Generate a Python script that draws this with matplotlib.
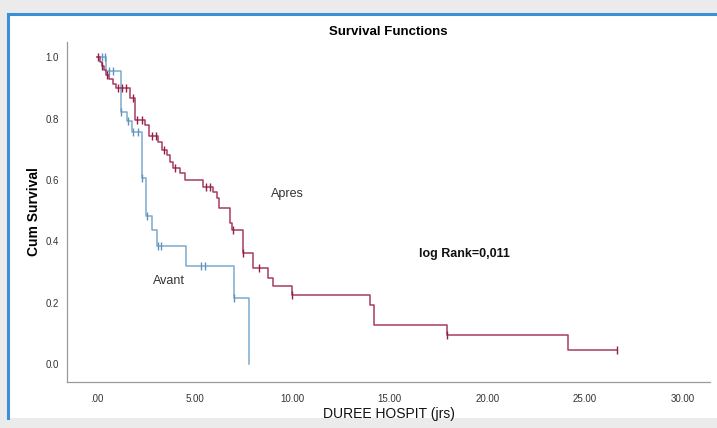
import numpy as np
import matplotlib
matplotlib.use('Agg')
import matplotlib.pyplot as plt
from matplotlib.patches import Rectangle

plt.rcParams['font.family'] = ['Liberation Sans', 'DejaVu Sans']

# Kaplan-Meier steps (time in days, cum survival after the drop)
apres_times = [0.13, 0.23, 0.36, 0.46, 0.62, 0.82, 0.97, 1.69, 1.95, 2.46, 2.67, 3.13, 3.32,
               3.57, 3.74, 3.90, 4.26, 4.51, 5.44, 5.93, 6.14, 6.26, 6.82, 6.92, 7.49, 8.00,
               8.77, 9.03, 9.98, 14.00, 14.20, 17.93, 24.14]
apres_surv = [0.985, 0.972, 0.959, 0.943, 0.930, 0.914, 0.900, 0.868, 0.796, 0.780, 0.744,
              0.725, 0.698, 0.682, 0.660, 0.638, 0.622, 0.600, 0.577, 0.562, 0.541, 0.509,
              0.460, 0.437, 0.363, 0.313, 0.281, 0.253, 0.225, 0.192, 0.127, 0.095, 0.046]
apres_end = 26.65
apres_censored = [0.05, 0.25, 0.5, 1.08, 1.28, 1.5, 1.83, 2.05, 2.3, 2.8, 3.0, 3.45, 4.0,
                  5.6, 5.8, 6.95, 7.5, 8.3, 9.98, 17.93, 26.65]

avant_times = [0.46, 1.23, 1.52, 1.78, 2.29, 2.51, 2.81, 3.06, 4.56, 7.03, 7.76]
avant_surv = [0.956, 0.822, 0.791, 0.758, 0.606, 0.481, 0.437, 0.385, 0.320, 0.214, 0.0]
avant_end = 7.76
avant_censored = [0.25, 0.4, 0.6, 0.8, 1.23, 1.6, 1.85, 2.1, 2.29, 2.55, 3.1, 3.3, 5.3, 5.55, 7.03]

xticks = [0, 5, 10, 15, 20, 25, 30]
xticklabels = ['.00', '5.00', '10.00', '15.00', '20.00', '25.00', '30.00']
yticks = [0.0, 0.2, 0.4, 0.6, 0.8, 1.0]

red = '#a83a63'
red_dark = '#8e1f45'
blue = '#7eaacb'
blue_dark = '#5f93bb'

fig = plt.figure(figsize=(7.17, 4.28), dpi=100)
fig.patch.set_facecolor('#ebebeb')
# window frame around the chart
fig.patches.append(Rectangle((8 / 717, 10 / 428), 709 / 717, 404 / 428, transform=fig.transFigure,
                             facecolor='white', edgecolor='none', zorder=-2))
fig.lines.append(plt.Line2D([8 / 717, 1], [414 / 428, 414 / 428], transform=fig.transFigure,
                            color='#3d8fd6', lw=2.2, zorder=-1))
fig.lines.append(plt.Line2D([8 / 717, 8 / 717], [10 / 428, 414 / 428], transform=fig.transFigure,
                            color='#3d8fd6', lw=2.2, zorder=-1))

ax = fig.add_axes([67 / 717, 1 - 382 / 428, (710 - 67) / 717, (382 - 42) / 428])
ax.set_facecolor('none')


def draw_km(times, surv, end, cens, color, mcolor):
    x = [0.0] + list(times) + [end]
    y = [1.0] + list(surv) + [surv[-1]]
    ax.step(x, y, where='post', color=color, lw=1.1, zorder=2)
    levels = np.array([1.0] + list(surv))
    idx = np.searchsorted(np.array(times), np.array(cens), side='right')
    ax.plot(cens, levels[idx], linestyle='none', marker='|', markersize=6, mew=1.0,
            color=mcolor, zorder=3)


draw_km(avant_times, avant_surv, avant_end, avant_censored, blue, blue_dark)
draw_km(apres_times, apres_surv, apres_end, apres_censored, red, red_dark)

ax.set_xlim(-1.54, 31.4)
ax.set_ylim(-0.059, 1.05)
ax.set_xticks(xticks)
ax.set_xticklabels(xticklabels)
ax.set_yticks(yticks)
ax.set_yticklabels(['%.1f' % v for v in yticks])
ax.tick_params(axis='both', length=0, labelsize=7, colors='#333333')
ax.tick_params(axis='x', pad=9)
ax.tick_params(axis='y', pad=6)
for s in ['top', 'right']:
    ax.spines[s].set_visible(False)
for s in ['left', 'bottom']:
    ax.spines[s].set_color('#9a9a9a')
    ax.spines[s].set_linewidth(0.9)

ax.set_title('Survival Functions', fontsize=9.5, fontweight='bold', pad=5)
ax.set_ylabel('Cum Survival', fontsize=10, fontweight='bold', labelpad=3)
ax.set_xlabel('DUREE HOSPIT (jrs)', fontsize=10, labelpad=2, color='#111111')

ax.text(8.9, 0.555, 'Apres', fontsize=9, color='#333333', va='center')
ax.text(2.85, 0.27, 'Avant', fontsize=9, color='#333333', va='center')
ax.text(16.5, 0.36, 'log Rank=0,011', fontsize=9, fontweight='bold', color='#111111', va='center')

fig.savefig('out.png', dpi=100, facecolor=fig.get_facecolor())
